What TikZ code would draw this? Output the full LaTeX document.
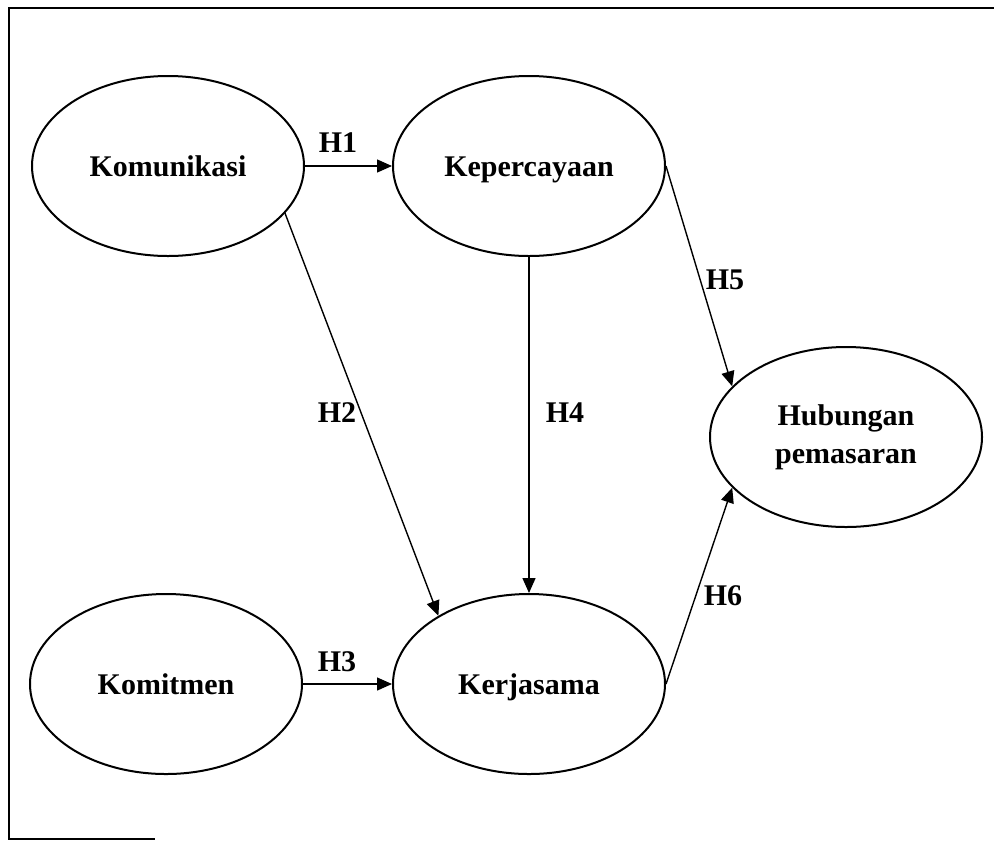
\documentclass[tikz,border=0pt]{standalone}
\usepackage{fontspec}
\setmainfont{Liberation Serif}
\usetikzlibrary{shapes.geometric,arrows.meta}
\begin{document}
\begin{tikzpicture}[x=0.5pt,y=-0.5pt,
  varbase/.style={draw, ellipse, line width=1pt, minimum width=136pt, minimum height=90pt, inner sep=0pt, align=center, font=\bfseries\fontsize{15}{19}\selectfont},
  var/.style={varbase, text height=10.5pt, text depth=0pt},
  lab/.style={font=\bfseries\fontsize{15}{18}\selectfont, inner sep=0pt},
  path/.style={line width=0.7pt, -{Triangle[length=7.5pt,width=6.5pt]}},
  frame/.style={line width=1pt}]
\useasboundingbox (0,0) rectangle (994,841);
% frame
\coordinate (f1) at (994,8);
\coordinate (f2) at (9,8);
\coordinate (f3) at (9,839);
\coordinate (f4) at (155,839);
\draw[frame] (f1) -- (f2) -- (f3) -- (f4);
% nodes
\node[var] (kom) at (168,166) {Komunikasi};
\node[var] (kep) at (529,166) {Kepercayaan};
\node[varbase] (hub) at (846,437) {Hubungan\\pemasaran};
\node[var] (komt) at (166,684) {Komitmen};
\node[var] (ker) at (529,684) {Kerjasama};
% connectors
\draw[path] (kom.east) -- (kep.west);
\draw[path] (kom.-22) -- (ker.143);
\draw[path] (komt.east) -- (ker.west);
\draw[path] (kep.south) -- (ker.north);
\draw[path] (kep.east) -- (hub.156);
\draw[path] (ker.east) -- (hub.204);
% labels
\node[lab] (h1) at (338,143) {H1};
\node[lab] (h2) at (337,413) {H2};
\node[lab] (h3) at (337,662) {H3};
\node[lab] (h4) at (565,413) {H4};
\node[lab] (h5) at (725,280) {H5};
\node[lab] (h6) at (723,596) {H6};
\end{tikzpicture}
\end{document}
